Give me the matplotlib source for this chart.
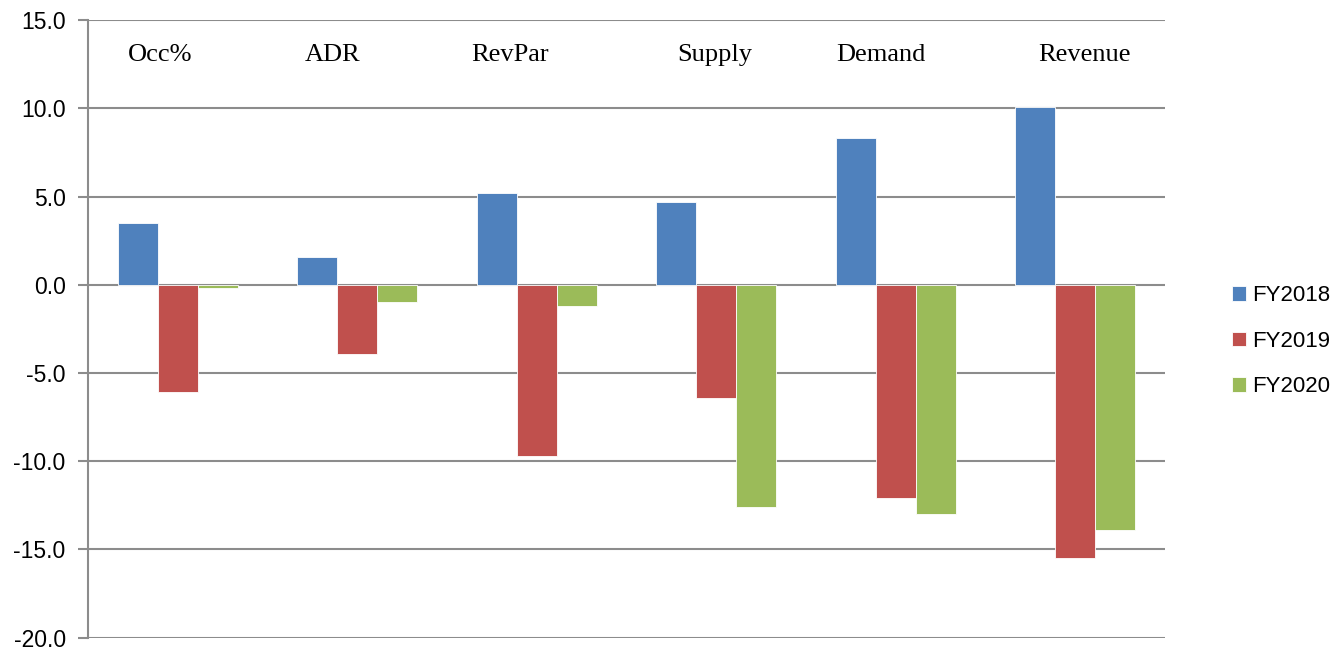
import matplotlib.pyplot as plt
import numpy as np

categories = ['Occ%', 'ADR', 'RevPar', 'Supply', 'Demand', 'Revenue']
fy2018 = [3.5, 1.6, 5.2, 4.7, 8.3, 10.1]
fy2019 = [-6.1, -3.9, -9.7, -6.4, -12.1, -15.5]
fy2020 = [-0.2, -1.0, -1.2, -12.6, -13.0, -13.9]
series_names = ['FY2018', 'FY2019', 'FY2020']
yticks = [15, 10, 5, 0, -5, -10, -15, -20]

colors = ['#4F81BD', '#C0504D', '#9BBB59']
label_shift = [-0.1, -0.14, -0.15, -0.01, -0.08, 0.05]  # text boxes sit a bit off-centre

fig = plt.figure(figsize=(13.41, 6.52), dpi=100)
ax = fig.add_axes([0.0656, 0.022, 0.803, 0.947])

x = np.arange(len(categories))
w = 0.223
for k, vals in enumerate([fy2018, fy2019, fy2020]):
    ax.bar(x + (k - 1) * w, vals, width=w, color=colors[k], edgecolor='white',
           linewidth=0.6, label=series_names[k], zorder=3)

# category names written inside the plot near the top
for i, name in enumerate(categories):
    ax.text(i + label_shift[i], 13.0, name, ha='center', va='center',
            fontsize=19, family='Liberation Serif', zorder=4)

ax.set_xlim(-0.5, len(categories) - 0.5)
ax.set_ylim(-20, 15)
ax.set_yticks(yticks)
ax.set_yticklabels(['%.1f' % v for v in yticks], fontsize=16.5, family='Liberation Sans')
ax.set_xticks([])
ax.grid(axis='y', color='#8c8c8c', linewidth=1.5, zorder=1)
ax.tick_params(axis='y', length=7, width=1.5, color='#8c8c8c', pad=9)
for s in ['top', 'right', 'bottom']:
    ax.spines[s].set_visible(False)
ax.spines['left'].set_color('#8c8c8c')
ax.spines['left'].set_linewidth(1.5)

leg = ax.legend(loc='center left', bbox_to_anchor=(1.044, 0.48), frameon=False,
                prop={'family': 'Liberation Sans', 'size': 16}, handlelength=0.62,
                handleheight=0.62, handletextpad=0.3, labelspacing=1.1)

fig.savefig('out.png', dpi=100)
